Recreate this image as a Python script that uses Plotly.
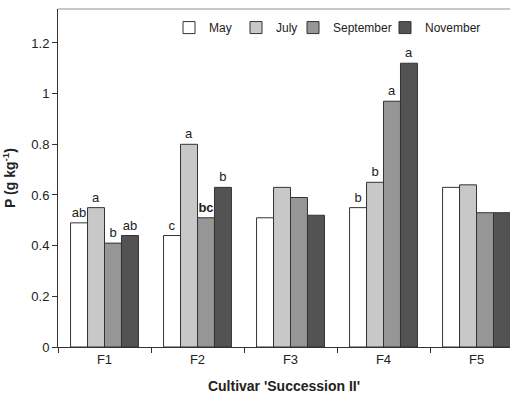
import plotly.graph_objects as go

categories = ["F1", "F2", "F3", "F4", "F5"]
may = [0.49, 0.44, 0.51, 0.55, 0.63]
july = [0.55, 0.80, 0.63, 0.65, 0.64]
september = [0.41, 0.51, 0.59, 0.97, 0.53]
november = [0.44, 0.63, 0.52, 1.12, 0.53]

may_lbl = ["ab", "c", "", "b", ""]
july_lbl = ["a", "a", "", "b", ""]
sep_lbl = ["b", "<b>bc</b>", "", "a", ""]
nov_lbl = ["ab", "b", "", "a", ""]

series = [
    ("May", may, may_lbl, "#ffffff", "legend"),
    ("July", july, july_lbl, "#c8c8c8", "legend2"),
    ("September", september, sep_lbl, "#969696", "legend3"),
    ("November", november, nov_lbl, "#535353", "legend4"),
]

fig = go.Figure()
for name, vals, lbls, col, lg in series:
    fig.add_trace(go.Bar(
        x=categories, y=vals, name=name, text=lbls, legend=lg,
        textposition="outside", cliponaxis=False, constraintext="none",
        textfont=dict(size=13, color="#222222"),
        outsidetextfont=dict(size=13, color="#222222"),
        marker=dict(color=col, line=dict(color="#333333", width=1)),
    ))

W, H, L, R, T, B = 510, 395, 58, 0, 9, 48
pw = W - L - R


def lg_x(px):
    return (px - L) / pw


leg_common = dict(orientation="h", yanchor="middle", xanchor="left", y=0.945,
                  font=dict(size=12, color="#222222"), itemwidth=30,
                  bgcolor="rgba(0,0,0,0)", borderwidth=0)
text_starts = [209, 276, 333, 425]

layout_legends = {}
for i, key in enumerate(["legend", "legend2", "legend3", "legend4"]):
    layout_legends[key] = dict(leg_common, x=lg_x(text_starts[i] - 40))

fig.update_layout(
    width=W, height=H,
    margin=dict(l=L, r=R, t=T, b=B),
    paper_bgcolor="white", plot_bgcolor="white",
    barmode="group", bargap=0.27, bargroupgap=0,
    font=dict(family="Liberation Sans, Arial", size=13, color="#222222"),
    showlegend=True,
    xaxis=dict(range=[-0.5, 4.36], showline=True, linecolor="#333", linewidth=1,
               ticks="outside", tickson="boundaries", ticklen=5, tickcolor="#333",
               automargin=False,
               title=dict(text="<b>Cultivar 'Succession II'</b>", font=dict(size=14)),
               showgrid=False),
    yaxis=dict(range=[0, 1.334], tickvals=[0, 0.2, 0.4, 0.6, 0.8, 1, 1.2],
               ticktext=["0", "0.2", "0.4", "0.6", "0.8", "1", "1.2"],
               showline=True, linecolor="#333", linewidth=1, ticks="outside",
               ticklen=5, tickcolor="#333", showgrid=False, zeroline=False,
               automargin=False,
               title=dict(text="<b>P (g kg<sup>-1</sup>)</b>", font=dict(size=14))),
    shapes=[dict(type="line", xref="paper", yref="paper", x0=0, x1=1, y0=1, y1=1,
                 line=dict(color="#c8c8c8", width=2))],
    **layout_legends,
)

fig.write_html("out.html")
